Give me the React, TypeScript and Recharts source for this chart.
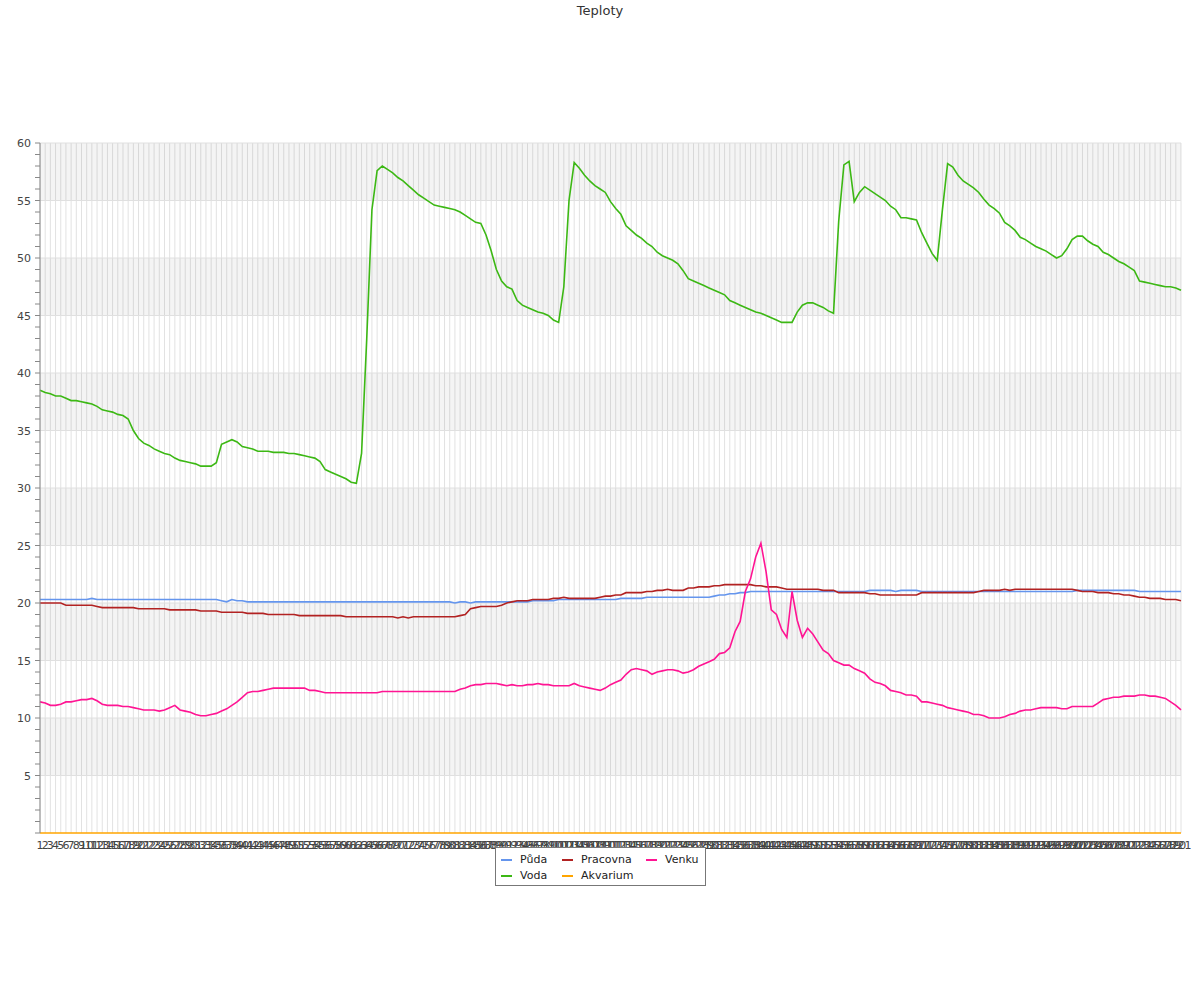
import React from 'react';
import { LineChart, Line, XAxis, YAxis, CartesianGrid, ReferenceArea, ReferenceLine } from 'recharts';

// temperatures per sample
const puda = [
  20.3, 20.3, 20.3, 20.3, 20.3, 20.3, 20.3, 20.3, 20.3, 20.3,
  20.4, 20.3, 20.3, 20.3, 20.3, 20.3, 20.3, 20.3, 20.3, 20.3,
  20.3, 20.3, 20.3, 20.3, 20.3, 20.3, 20.3, 20.3, 20.3, 20.3,
  20.3, 20.3, 20.3, 20.3, 20.3, 20.2, 20.1, 20.3, 20.2, 20.2,
  20.1, 20.1, 20.1, 20.1, 20.1, 20.1, 20.1, 20.1, 20.1, 20.1,
  20.1, 20.1, 20.1, 20.1, 20.1, 20.1, 20.1, 20.1, 20.1, 20.1,
  20.1, 20.1, 20.1, 20.1, 20.1, 20.1, 20.1, 20.1, 20.1, 20.1,
  20.1, 20.1, 20.1, 20.1, 20.1, 20.1, 20.1, 20.1, 20.1, 20.1,
  20.0, 20.1, 20.1, 20.0, 20.1, 20.1, 20.1, 20.1, 20.1, 20.1,
  20.1, 20.1, 20.1, 20.1, 20.1, 20.2, 20.2, 20.2, 20.2, 20.2,
  20.3, 20.3, 20.3, 20.3, 20.3, 20.3, 20.3, 20.3, 20.3, 20.3,
  20.3, 20.3, 20.4, 20.4, 20.4, 20.4, 20.4, 20.5, 20.5, 20.5,
  20.5, 20.5, 20.5, 20.5, 20.5, 20.5, 20.5, 20.5, 20.5, 20.5,
  20.6, 20.7, 20.7, 20.8, 20.8, 20.9, 20.9, 21.0, 21.0, 21.0,
  21.0, 21.0, 21.0, 21.0, 21.0, 21.0, 21.0, 21.0, 21.0, 21.0,
  21.0, 21.0, 21.0, 21.0, 21.0, 21.0, 21.0, 21.0, 21.0, 21.0,
  21.1, 21.1, 21.1, 21.1, 21.1, 21.0, 21.1, 21.1, 21.1, 21.1,
  21.0, 21.0, 21.0, 21.0, 21.0, 21.0, 21.0, 21.0, 21.0, 21.0,
  21.0, 21.0, 21.0, 21.0, 21.0, 21.0, 21.0, 21.0, 21.0, 21.0,
  21.0, 21.0, 21.0, 21.0, 21.0, 21.0, 21.0, 21.0, 21.0, 21.0,
  21.1, 21.1, 21.1, 21.1, 21.1, 21.1, 21.1, 21.1, 21.1, 21.1,
  21.1, 21.1, 21.0, 21.0, 21.0, 21.0, 21.0, 21.0, 21.0, 21.0,
  21.0,
];

const voda = [
  38.5, 38.3, 38.2, 38.0, 38.0, 37.8, 37.6, 37.6, 37.5, 37.4,
  37.3, 37.1, 36.8, 36.7, 36.6, 36.4, 36.3, 36.0, 35.0, 34.3,
  33.9, 33.7, 33.4, 33.2, 33.0, 32.9, 32.6, 32.4, 32.3, 32.2,
  32.1, 31.9, 31.9, 31.9, 32.2, 33.8, 34.0, 34.2, 34.0, 33.6,
  33.5, 33.4, 33.2, 33.2, 33.2, 33.1, 33.1, 33.1, 33.0, 33.0,
  32.9, 32.8, 32.7, 32.6, 32.3, 31.6, 31.4, 31.2, 31.0, 30.8,
  30.5, 30.4, 33.0, 43.0, 54.2, 57.6, 58.0, 57.7, 57.4, 57.0,
  56.7, 56.3, 55.9, 55.5, 55.2, 54.9, 54.6, 54.5, 54.4, 54.3,
  54.2, 54.0, 53.7, 53.4, 53.1, 53.0, 52.0, 50.6, 49.0, 48.0,
  47.5, 47.3, 46.3, 45.9, 45.7, 45.5, 45.3, 45.2, 45.0, 44.6,
  44.4, 47.5, 55.0, 58.3, 57.8, 57.2, 56.7, 56.3, 56.0, 55.7,
  54.9, 54.3, 53.8, 52.8, 52.4, 52.0, 51.7, 51.3, 51.0, 50.5,
  50.2, 50.0, 49.8, 49.5, 48.9, 48.2, 48.0, 47.8, 47.6, 47.4,
  47.2, 47.0, 46.8, 46.3, 46.1, 45.9, 45.7, 45.5, 45.3, 45.2,
  45.0, 44.8, 44.6, 44.4, 44.4, 44.4, 45.3, 45.9, 46.1, 46.1,
  45.9, 45.7, 45.4, 45.2, 53.2, 58.1, 58.4, 54.9, 55.7, 56.2,
  55.9, 55.6, 55.3, 55.0, 54.5, 54.2, 53.5, 53.5, 53.4, 53.3,
  52.2, 51.3, 50.4, 49.8, 54.2, 58.2, 57.9, 57.2, 56.7, 56.4,
  56.1, 55.7, 55.1, 54.6, 54.3, 53.9, 53.1, 52.8, 52.4, 51.8,
  51.6, 51.3, 51.0, 50.8, 50.6, 50.3, 50.0, 50.2, 50.8, 51.6,
  51.9, 51.9, 51.5, 51.2, 51.0, 50.5, 50.3, 50.0, 49.7, 49.5,
  49.2, 48.9, 48.0, 47.9, 47.8, 47.7, 47.6, 47.5, 47.5, 47.4,
  47.2,
];

const pracovna = [
  20.0, 20.0, 20.0, 20.0, 20.0, 19.8, 19.8, 19.8, 19.8, 19.8,
  19.8, 19.7, 19.6, 19.6, 19.6, 19.6, 19.6, 19.6, 19.6, 19.5,
  19.5, 19.5, 19.5, 19.5, 19.5, 19.4, 19.4, 19.4, 19.4, 19.4,
  19.4, 19.3, 19.3, 19.3, 19.3, 19.2, 19.2, 19.2, 19.2, 19.2,
  19.1, 19.1, 19.1, 19.1, 19.0, 19.0, 19.0, 19.0, 19.0, 19.0,
  18.9, 18.9, 18.9, 18.9, 18.9, 18.9, 18.9, 18.9, 18.9, 18.8,
  18.8, 18.8, 18.8, 18.8, 18.8, 18.8, 18.8, 18.8, 18.8, 18.7,
  18.8, 18.7, 18.8, 18.8, 18.8, 18.8, 18.8, 18.8, 18.8, 18.8,
  18.8, 18.9, 19.0, 19.5, 19.6, 19.7, 19.7, 19.7, 19.7, 19.8,
  20.0, 20.1, 20.2, 20.2, 20.2, 20.3, 20.3, 20.3, 20.3, 20.4,
  20.4, 20.5, 20.4, 20.4, 20.4, 20.4, 20.4, 20.4, 20.5, 20.6,
  20.6, 20.7, 20.7, 20.9, 20.9, 20.9, 20.9, 21.0, 21.0, 21.1,
  21.1, 21.2, 21.1, 21.1, 21.1, 21.3, 21.3, 21.4, 21.4, 21.4,
  21.5, 21.5, 21.6, 21.6, 21.6, 21.6, 21.6, 21.6, 21.5, 21.5,
  21.4, 21.4, 21.4, 21.3, 21.2, 21.2, 21.2, 21.2, 21.2, 21.2,
  21.2, 21.1, 21.1, 21.1, 20.9, 20.9, 20.9, 20.9, 20.9, 20.9,
  20.8, 20.8, 20.7, 20.7, 20.7, 20.7, 20.7, 20.7, 20.7, 20.7,
  20.9, 20.9, 20.9, 20.9, 20.9, 20.9, 20.9, 20.9, 20.9, 20.9,
  20.9, 21.0, 21.1, 21.1, 21.1, 21.1, 21.2, 21.1, 21.2, 21.2,
  21.2, 21.2, 21.2, 21.2, 21.2, 21.2, 21.2, 21.2, 21.2, 21.2,
  21.1, 21.0, 21.0, 21.0, 20.9, 20.9, 20.9, 20.8, 20.8, 20.7,
  20.7, 20.6, 20.5, 20.5, 20.4, 20.4, 20.4, 20.3, 20.3, 20.3,
  20.2,
];

const akvarium = [
  0, 0, 0, 0, 0, 0, 0, 0, 0, 0, 0, 0, 0, 0, 0, 0, 0, 0, 0, 0,
  0, 0, 0, 0, 0, 0, 0, 0, 0, 0, 0, 0, 0, 0, 0, 0, 0, 0, 0, 0,
  0, 0, 0, 0, 0, 0, 0, 0, 0, 0, 0, 0, 0, 0, 0, 0, 0, 0, 0, 0,
  0, 0, 0, 0, 0, 0, 0, 0, 0, 0, 0, 0, 0, 0, 0, 0, 0, 0, 0, 0,
  0, 0, 0, 0, 0, 0, 0, 0, 0, 0, 0, 0, 0, 0, 0, 0, 0, 0, 0, 0,
  0, 0, 0, 0, 0, 0, 0, 0, 0, 0, 0, 0, 0, 0, 0, 0, 0, 0, 0, 0,
  0, 0, 0, 0, 0, 0, 0, 0, 0, 0, 0, 0, 0, 0, 0, 0, 0, 0, 0, 0,
  0, 0, 0, 0, 0, 0, 0, 0, 0, 0, 0, 0, 0, 0, 0, 0, 0, 0, 0, 0,
  0, 0, 0, 0, 0, 0, 0, 0, 0, 0, 0, 0, 0, 0, 0, 0, 0, 0, 0, 0,
  0, 0, 0, 0, 0, 0, 0, 0, 0, 0, 0, 0, 0, 0, 0, 0, 0, 0, 0, 0,
  0, 0, 0, 0, 0, 0, 0, 0, 0, 0, 0, 0, 0, 0, 0, 0, 0, 0, 0, 0,
  0,
];

const venku = [
  11.4, 11.3, 11.1, 11.1, 11.2, 11.4, 11.4, 11.5, 11.6, 11.6,
  11.7, 11.5, 11.2, 11.1, 11.1, 11.1, 11.0, 11.0, 10.9, 10.8,
  10.7, 10.7, 10.7, 10.6, 10.7, 10.9, 11.1, 10.7, 10.6, 10.5,
  10.3, 10.2, 10.2, 10.3, 10.4, 10.6, 10.8, 11.1, 11.4, 11.8,
  12.2, 12.3, 12.3, 12.4, 12.5, 12.6, 12.6, 12.6, 12.6, 12.6,
  12.6, 12.6, 12.4, 12.4, 12.3, 12.2, 12.2, 12.2, 12.2, 12.2,
  12.2, 12.2, 12.2, 12.2, 12.2, 12.2, 12.3, 12.3, 12.3, 12.3,
  12.3, 12.3, 12.3, 12.3, 12.3, 12.3, 12.3, 12.3, 12.3, 12.3,
  12.3, 12.5, 12.6, 12.8, 12.9, 12.9, 13.0, 13.0, 13.0, 12.9,
  12.8, 12.9, 12.8, 12.8, 12.9, 12.9, 13.0, 12.9, 12.9, 12.8,
  12.8, 12.8, 12.8, 13.0, 12.8, 12.7, 12.6, 12.5, 12.4, 12.6,
  12.9, 13.1, 13.3, 13.8, 14.2, 14.3, 14.2, 14.1, 13.8, 14.0,
  14.1, 14.2, 14.2, 14.1, 13.9, 14.0, 14.2, 14.5, 14.7, 14.9,
  15.1, 15.6, 15.7, 16.1, 17.5, 18.4, 21.0, 22.1, 24.0, 25.2,
  22.7, 19.4, 19.0, 17.7, 17.0, 21.0, 18.5, 17.0, 17.8, 17.3,
  16.6, 15.9, 15.6, 15.0, 14.8, 14.6, 14.6, 14.3, 14.1, 13.9,
  13.4, 13.1, 13.0, 12.8, 12.4, 12.3, 12.2, 12.0, 12.0, 11.9,
  11.4, 11.4, 11.3, 11.2, 11.1, 10.9, 10.8, 10.7, 10.6, 10.5,
  10.3, 10.3, 10.2, 10.0, 10.0, 10.0, 10.1, 10.3, 10.4, 10.6,
  10.7, 10.7, 10.8, 10.9, 10.9, 10.9, 10.9, 10.8, 10.8, 11.0,
  11.0, 11.0, 11.0, 11.0, 11.3, 11.6, 11.7, 11.8, 11.8, 11.9,
  11.9, 11.9, 12.0, 12.0, 11.9, 11.9, 11.8, 11.7, 11.4, 11.1,
  10.7,
];

// x categories are just the sample numbers 1..221
const labels = voda.map((_, i) => String(i + 1));

const yTicks = [
  0, 1, 2, 3, 4, 5, 6, 7, 8, 9, 10, 11, 12, 13, 14, 15, 16, 17, 18, 19, 20,
  21, 22, 23, 24, 25, 26, 27, 28, 29, 30, 31, 32, 33, 34, 35, 36, 37, 38, 39, 40,
  41, 42, 43, 44, 45, 46, 47, 48, 49, 50, 51, 52, 53, 54, 55, 56, 57, 58, 59, 60,
];
const gridLines = [5, 10, 15, 20, 25, 30, 35, 40, 45, 50, 55, 60];
const bands = [[5, 10], [15, 20], [25, 30], [35, 40], [45, 50], [55, 60]];

const series = [
  { key: 'puda', name: 'Půda', color: '#6495ed' },
  { key: 'voda', name: 'Voda', color: '#3cb814' },
  { key: 'pracovna', name: 'Pracovna', color: '#b22222' },
  { key: 'akvarium', name: 'Akvarium', color: '#ffa500' },
  { key: 'venku', name: 'Venku', color: '#ff1493' },
];

const chartData = labels.map((label, i) => ({
  label,
  puda: puda[i],
  voda: voda[i],
  pracovna: pracovna[i],
  akvarium: akvarium[i],
  venku: venku[i],
}));

const YTick = (props: any) => {
  const { x, y, payload } = props;
  // only every 5th degree gets a label, and no "0"
  if (payload.value % 5 !== 0 || payload.value === 0) return <g />;
  return (
    <text x={x} y={y} dy={4} textAnchor="end" fontSize={11} fill="#444">
      {payload.value}
    </text>
  );
};

// legend laid out in columns like the original: Půda/Voda, Pracovna/Akvarium, Venku
const legendPos = [
  { left: 5, top: 6 },
  { left: 5, top: 22 },
  { left: 66, top: 6 },
  { left: 66, top: 22 },
  { left: 150, top: 6 },
];

export default function App() {
  return (
    <div
      style={{
        position: 'absolute',
        left: 0,
        top: 0,
        width: 1200,
        height: 1000,
        background: '#fff',
        fontFamily: '"DejaVu Sans", sans-serif',
      }}
    >
      <div style={{ position: 'absolute', top: 3, width: 1200, textAlign: 'center', fontSize: 13, color: '#333' }}>
        Teploty
      </div>
      <LineChart
        width={1200}
        height={1000}
        data={chartData}
        margin={{ top: 143, right: 19, bottom: 147, left: 0 }}
      >
        <CartesianGrid horizontal={false} stroke="#e2e2e2" />
        {bands.map(([a, b]) => (
          <ReferenceArea key={a} y1={a} y2={b} fill="#000" fillOpacity={0.045} stroke="none" />
        ))}
        {gridLines.map(v => (
          <ReferenceLine key={v} y={v} stroke="#e0e0e0" />
        ))}
        <XAxis
          dataKey="label"
          interval={0}
          tickLine={false}
          axisLine={false}
          tick={{ fontSize: 11, fill: '#444' }}
          height={20}
        />
        <YAxis
          domain={[0, 60]}
          ticks={yTicks}
          interval={0}
          width={40}
          tickSize={5}
          tickMargin={4}
          axisLine={{ stroke: '#888' }}
          tickLine={{ stroke: '#888' }}
          tick={<YTick />}
        />
        {series.map(s => (
          <Line
            key={s.key}
            type="linear"
            dataKey={s.key}
            name={s.name}
            stroke={s.color}
            strokeWidth={1.6}
            dot={false}
            isAnimationActive={false}
          />
        ))}
      </LineChart>
      <div
        style={{
          position: 'absolute',
          left: 495,
          top: 847,
          width: 209,
          height: 37,
          border: '1px solid #777',
          background: '#fff',
          fontSize: 11,
          color: '#222',
        }}
      >
        {series.map((s, i) => (
          <div key={s.key} style={{ position: 'absolute', left: legendPos[i].left, top: legendPos[i].top - 1, whiteSpace: 'nowrap' }}>
            <span
              style={{
                display: 'inline-block',
                width: 11,
                height: 2,
                background: s.color,
                verticalAlign: 'middle',
                marginRight: 8,
              }}
            />
            {s.name}
          </div>
        ))}
      </div>
    </div>
  );
}
